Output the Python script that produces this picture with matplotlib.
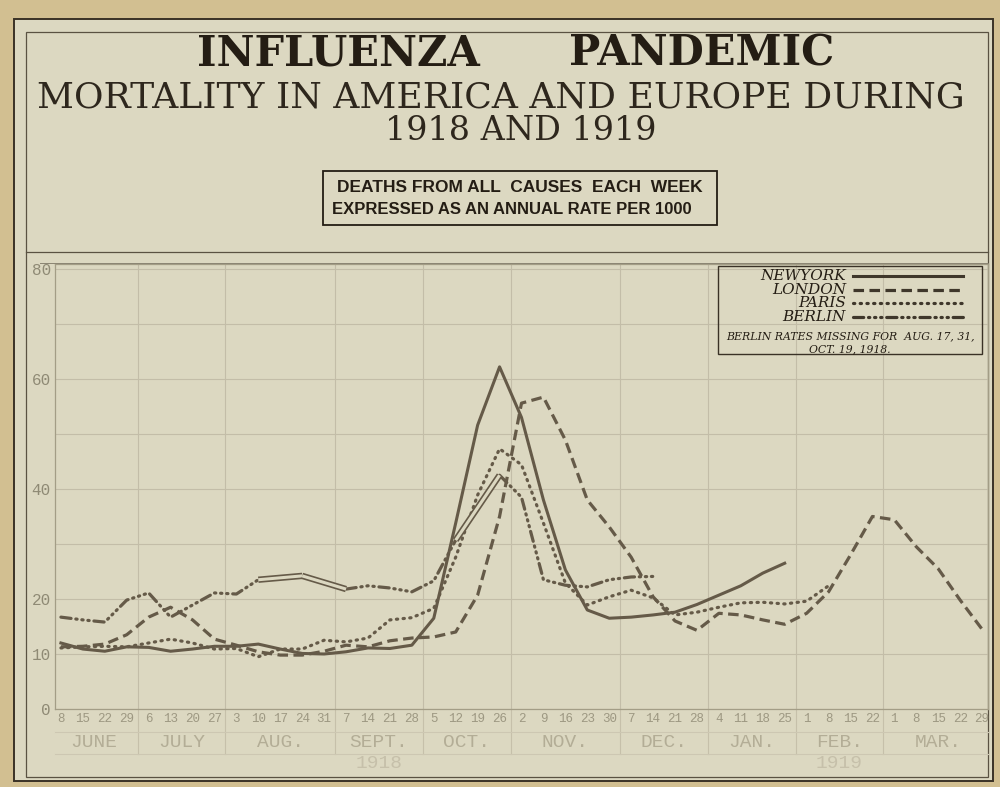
import numpy as np
import matplotlib
matplotlib.use("Agg")
import matplotlib.pyplot as plt
from matplotlib.patches import Rectangle
from matplotlib.lines import Line2D
import matplotlib.transforms as mtransforms

nan = np.nan

# week ending dates, June 8 1918 to March 29 1919
days = [8, 15, 22, 29, 6, 13, 20, 27, 3, 10, 17, 24, 31, 7, 14, 21, 28,
        5, 12, 19, 26, 2, 9, 16, 23, 30, 7, 14, 21, 28, 4, 11, 18, 25,
        1, 8, 15, 22, 1, 8, 15, 22, 29]
months = ["JUNE", "JULY", "AUG.", "SEPT.", "OCT.", "NOV.", "DEC.", "JAN.", "FEB.", "MAR."]
weeks_per_month = [4, 4, 5, 4, 4, 5, 4, 4, 4, 5]
years = ["1918", "1919"]
year_under_month = [3, 8]

# deaths per week as annual rate per 1000
new_york = [12.0, 10.9, 10.5, 11.3, 11.2, 10.5, 10.9, 11.4, 11.4, 11.8, 10.9, 10.1,
            10.0, 10.4, 11.1, 11.0, 11.6, 16.5, 33.8, 51.6, 62.2, 53.0, 38.0, 25.3,
            18.0, 16.5, 16.7, 17.1, 17.6, 19.0, 20.7, 22.4, 24.7, 26.5]
london = [11.3, 11.4, 11.8, 13.5, 16.7, 18.5, 16.2, 12.7, 11.6, 10.4, 9.8, 9.8,
          10.5, 11.6, 11.3, 12.4, 12.9, 13.1, 14.0, 20.7, 35.0, 55.6, 56.7, 48.9,
          38.0, 33.1, 27.6, 20.4, 16.0, 14.3, 17.4, 17.1, 16.2, 15.4, 17.4, 21.3,
          28.0, 35.0, 34.4, 29.5, 25.5, 19.8, 14.5]
paris = [11.1, 11.3, 11.4, 11.3, 12.0, 12.7, 12.0, 10.9, 11.0, 9.5, 10.9, 10.9,
         12.5, 12.2, 12.9, 16.2, 16.6, 18.3, 27.6, 38.9, 47.3, 44.4, 33.8, 22.9,
         18.9, 20.4, 21.6, 20.2, 17.1, 17.6, 18.5, 19.3, 19.4, 19.1, 19.6, 22.4]
berlin = [16.7, 16.2, 15.8, 19.8, 21.1, 16.7, 18.9, 21.1, 20.9, 23.5, nan, 24.2,
          nan, 21.8, 22.4, 22.0, 21.3, 23.3, 30.7, nan, 42.5, 38.5, 23.5, 22.5,
          22.2, 23.5, 24.0, 24.1]

mat = "#d2bf91"
paper = "#dcd8c1"
ink = "#241d14"
line_col = "#655a48"
grid_col = "#c3bda8"
faint = "#8f8a75"

W, H = 1000, 787


def fx(px):
    return px / W


def fy(py):
    return 1 - py / H


fig = plt.figure(figsize=(10, 7.87), dpi=100, facecolor=mat)

# card and borders
fig.patches.append(Rectangle((fx(14), fy(781)), fx(979), 762 / H, transform=fig.transFigure,
                             facecolor=paper, edgecolor="#3a3226", lw=1.4, zorder=-2))
fig.patches.append(Rectangle((fx(26), fy(777)), fx(962), 745 / H, transform=fig.transFigure,
                             facecolor="none", edgecolor="#5a5242", lw=0.9, zorder=-1))
fig.lines.append(Line2D([fx(26), fx(988)], [fy(252), fy(252)], transform=fig.transFigure,
                        color="#5a5242", lw=0.9))
fig.lines.append(Line2D([fx(40), fx(988)], [fy(263), fy(263)], transform=fig.transFigure,
                        color="#8a8472", lw=0.7))

# header
fig.text(fx(338), fy(53), "INFLUENZA", ha="center", va="center", color=ink,
         family="DejaVu Serif", weight="bold", fontsize=30)
fig.text(fx(702), fy(53), "PANDEMIC", ha="center", va="center", color=ink,
         family="DejaVu Serif", weight="bold", fontsize=30)
fig.text(fx(501), fy(97), "MORTALITY IN AMERICA AND EUROPE DURING", ha="center", va="center",
         color="#2e271d", family="DejaVu Serif", fontsize=26)
fig.text(fx(521), fy(131), "1918 AND 1919", ha="center", va="center",
         color="#2e271d", family="DejaVu Serif", fontsize=24)
fig.patches.append(Rectangle((fx(323), fy(225)), fx(394), 54 / H, transform=fig.transFigure,
                             facecolor="none", edgecolor=ink, lw=1.3))
fig.text(fx(520), fy(187), "DEATHS FROM ALL  CAUSES  EACH  WEEK", ha="center", va="center",
         color=ink, family="Liberation Sans", weight="bold", fontsize=12.5)
fig.text(fx(512), fy(210), "EXPRESSED AS AN ANNUAL RATE PER 1000", ha="center", va="center",
         color=ink, family="Liberation Sans", weight="bold", fontsize=12)

# chart
ax = fig.add_axes([fx(55), fy(709), 933 / W, 445 / H])
ax.set_facecolor("none")
x = np.arange(len(days))
ax.set_xlim(-0.27, len(days) - 1 + 0.27)
ax.set_ylim(0, 80.9)

for s in ax.spines.values():
    s.set_color("#a39d86")
    s.set_linewidth(0.9)

ax.set_yticks([0, 10, 20, 40, 60, 80])
ax.set_yticks([30, 50, 70], minor=True)
ax.tick_params(axis="y", which="both", length=0, pad=3, labelsize=11.5, labelcolor=faint)
for lab in ax.get_yticklabels():
    lab.set_family("Liberation Mono")
ax.set_xticks(x)
ax.set_xticklabels([str(d) for d in days], family="Liberation Mono", fontsize=9,
                   color="#9d9882")
ax.tick_params(axis="x", length=0, pad=3)
ax.grid(axis="y", which="both", color=grid_col, lw=0.8)

starts = np.cumsum([0] + weeks_per_month[:-1])
for s in starts[1:]:
    ax.axvline(s - 0.5, color=grid_col, lw=0.8, zorder=0)

lab_tr = mtransforms.blended_transform_factory(ax.transData, ax.transAxes)
for s in starts[1:]:
    ax.plot([s - 0.5, s - 0.5], [0, -0.1], transform=lab_tr, color="#c6c0aa", lw=0.8, clip_on=False)
ax.plot([-0.27, len(days) - 0.73], [-0.052, -0.052], transform=lab_tr, color="#cdc7b2", lw=0.8,
        clip_on=False)
ax.plot([-0.27, len(days) - 0.73], [-0.1, -0.1], transform=lab_tr, color="#cdc7b2", lw=0.8,
        clip_on=False)
for m, s, n in zip(months, starts, weeks_per_month):
    ax.text(s + (n - 1) / 2, -0.075, m, transform=lab_tr, ha="center", va="center",
            family="Liberation Mono", fontsize=14, color="#b3ad96")
for yr, mi in zip(years, year_under_month):
    ax.text(starts[mi] + (weeks_per_month[mi] - 1) / 2, -0.123, yr, transform=lab_tr,
            ha="center", va="center", family="Liberation Mono", fontsize=14, color="#c6c0aa")

styles = {
    "NY": dict(ls="-", lw=2.2),
    "LON": dict(ls=(0, (3.3, 1.7)), lw=2.3),
    "PAR": dict(ls=(0, (0.4, 1.7)), lw=2.3, dash_capstyle="round"),
    "BER": dict(ls=(0, (3.2, 1.5, 0.4, 1.5, 0.4, 1.5, 0.4, 1.5)), lw=2.3, dash_capstyle="round"),
}

ax.plot(x[:len(new_york)], new_york, color=line_col, **styles["NY"])
ax.plot(x[:len(london)], london, color=line_col, **styles["LON"])
ax.plot(x[:len(paris)], paris, color=line_col, **styles["PAR"])
ax.plot(x[:len(berlin)], berlin, color=line_col, **styles["BER"])

# Berlin missing weeks drawn as hollow bridges
b = np.array(berlin)
for i in range(1, len(b) - 1):
    if np.isnan(b[i]) and not np.isnan(b[i - 1]) and not np.isnan(b[i + 1]):
        ax.plot([x[i - 1], x[i + 1]], [b[i - 1], b[i + 1]], color=line_col, lw=4.6,
                solid_capstyle="butt")
        ax.plot([x[i - 1], x[i + 1]], [b[i - 1], b[i + 1]], color=paper, lw=2.2,
                solid_capstyle="butt")

# legend box
fig.patches.append(Rectangle((fx(718), fy(354)), fx(264), 88 / H, transform=fig.transFigure,
                             facecolor="none", edgecolor="#3a3226", lw=1.0))
names = ["NEWYORK", "LONDON", "PARIS", "BERLIN"]
keys = ["NY", "LON", "PAR", "BER"]
rows = [276, 290, 303, 317]
for nm, k, r in zip(names, keys, rows):
    fig.text(fx(846), fy(r), nm, ha="right", va="center", family="DejaVu Serif",
             style="italic", fontsize=11, color=ink)
    fig.lines.append(Line2D([fx(853), fx(963)], [fy(r), fy(r)], transform=fig.transFigure,
                            color="#3f372b", **styles[k]))
fig.text(fx(850), fy(336), "BERLIN RATES MISSING FOR  AUG. 17, 31,", ha="center", va="center",
         family="DejaVu Serif", style="italic", fontsize=7.8, color=ink)
fig.text(fx(850), fy(349), "OCT. 19, 1918.", ha="center", va="center",
         family="DejaVu Serif", style="italic", fontsize=7.8, color=ink)

fig.savefig("out.png", dpi=100, facecolor=mat)
